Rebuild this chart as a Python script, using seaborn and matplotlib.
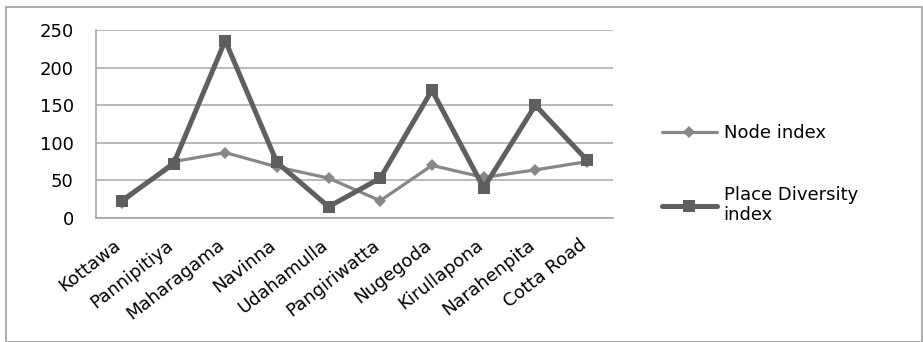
import matplotlib.pyplot as plt
import matplotlib.patches as mpatches
import matplotlib.transforms as mtransforms
from matplotlib.ticker import FixedLocator
import seaborn as sns
import pandas as pd
import numpy as np

# Data
places = ['Kottawa', 'Pannipitiya', 'Maharagama', 'Navinna', 'Udahamulla',
          'Pangiriwatta', 'Nugegoda', 'Kirullapona', 'Narahenpita', 'Cotta Road']
node_index = [20, 75, 87, 68, 53, 23, 70, 54, 64, 75]
place_diversity = [23, 72, 236, 74, 15, 53, 170, 40, 150, 77]
y_ticks = [0, 50, 100, 150, 200, 250]

df = pd.DataFrame({'place': places, 'Node index': node_index,
                   'Place Diversity\nindex': place_diversity})

sns.set_style('white')
plt.rcParams['font.family'] = ['DejaVu Sans']

fig = plt.figure(figsize=(9.23, 3.42), dpi=100)
ax = fig.add_axes([0.104, 0.3626, 0.56, 0.5494])

# outer chart frame
fig.patches.append(mpatches.Rectangle((6 / 923, 0), 916 / 923, 1 - 7 / 342,
                                      transform=fig.transFigure, fill=False,
                                      edgecolor='#a0a0a0', linewidth=1.2))

sns.lineplot(data=df, x='place', y='Node index', ax=ax, sort=False,
             color='#878787', linewidth=2.3, marker='D', markersize=6,
             markeredgewidth=0, label='Node index')
sns.lineplot(data=df, x='place', y='Place Diversity\nindex', ax=ax, sort=False,
             color='#5f5f5f', linewidth=3.6, marker='s', markersize=9,
             markeredgewidth=0, label='Place Diversity\nindex')

ax.set_xlim(-0.5, len(places) - 0.5)
ax.set_ylim(0, 250)
ax.set_yticks(y_ticks)
ax.grid(axis='y', color='#a6a6a6', linewidth=1.1)
ax.set_axisbelow(True)
for side in ['top', 'right']:
    ax.spines[side].set_visible(False)
for side in ['left', 'bottom']:
    ax.spines[side].set_color('#a0a0a0')
    ax.spines[side].set_linewidth(1.1)

ax.set_xlabel('')
ax.set_ylabel('')
ax.tick_params(axis='x', which='major', length=0, pad=13, labelcolor='black')
ax.xaxis.set_minor_locator(FixedLocator(np.arange(-0.5, len(places), 1.0)))
ax.tick_params(axis='x', which='minor', length=5, color='#a0a0a0', width=1.1)
ax.tick_params(axis='y', length=7, color='#a0a0a0', width=1.1, pad=9,
               labelcolor='black')

# shift rotated labels a bit left so their ends sit like the reference
shift = mtransforms.ScaledTranslation(-6 / 72, 0, fig.dpi_scale_trans)
for lab in ax.get_xticklabels():
    lab.set_transform(lab.get_transform() + shift)
plt.setp(ax.get_xticklabels(), rotation=38, ha='right', va='top',
         rotation_mode='anchor', fontsize=13)
plt.setp(ax.get_yticklabels(), fontsize=13)

ax.legend_.remove()
handles, labels = ax.get_legend_handles_labels()
fig.legend(handles, labels, loc='center left', bbox_to_anchor=(0.70, 0.49),
           frameon=False, fontsize=13, handlelength=3.0, labelspacing=2.4,
           handletextpad=0.4, labelcolor='black')

fig.savefig('out.png', dpi=100)
